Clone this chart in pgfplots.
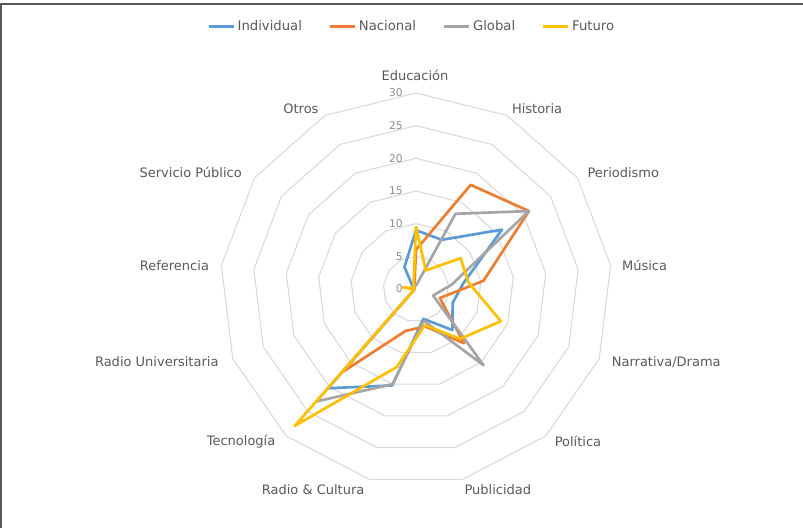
\documentclass[border=0pt]{standalone}
\usepackage{fontspec}
\setmainfont{DejaVu Sans}
\usepackage{pgfplots}
\pgfplotsset{compat=1.18}
\usepgfplotslibrary{polar}
\definecolor{cI}{HTML}{5B9BD5}
\definecolor{cN}{HTML}{ED7D31}
\definecolor{cG}{HTML}{A5A5A5}
\definecolor{cF}{HTML}{FFC000}
\definecolor{gridc}{HTML}{D9D9D9}
\definecolor{labc}{HTML}{595959}
\definecolor{tickc}{HTML}{8C8C8C}
\newcommand\lab[4]{\node[text=labc,font=\fontsize{9.75}{11}\selectfont,xshift=#2*0.75pt,yshift=#3*0.75pt] at (axis cs:#1,30) {#4};}
\newcommand\tlab[1]{\node[text=tickc,font=\fontsize{8}{9}\selectfont,anchor=east,xshift=-6.5pt] at (axis cs:90,#1) {#1};}
\begin{document}
\begin{tikzpicture}[x=0.75pt,y=0.75pt]
\path[use as bounding box] (0,0) rectangle (803,528);
\draw[black!65,line width=1.2pt] (0,524) -- (803,524);
\draw[black!65,line width=1.2pt] (0.8,0) -- (0.8,524);
\begin{polaraxis}[
  at={(312pt,179.25pt)}, anchor=origin,
  scale only axis, width=294pt, height=294pt,
  xmin=0, xmax=360, ymin=0, ymax=30,
  hide axis, clip=false,
  legend columns=4,
  legend style={at={(0.49,1.170)}, anchor=center, draw=none, fill=none,
    font=\fontsize{9.9}{11}\selectfont, text=labc,
    /tikz/every even column/.append style={column sep=18pt}},
  legend image code/.code={\draw[#1] (0pt,0pt) -- (18.75pt,0pt);},
  every axis plot/.append style={line width=2pt, line join=round},
]
\pgfplotsinvokeforeach{5,10,15,20,25,30}{
\addplot[gridc, line width=0.8pt, forget plot] coordinates {(90,#1) (62.308,#1) (34.615,#1) (6.923,#1) (339.231,#1) (311.538,#1) (283.846,#1) (256.154,#1) (228.462,#1) (200.769,#1) (173.077,#1) (145.385,#1) (117.692,#1) (90,#1)};
}
\addplot[cI] coordinates {(90,9) (62.308,8.5) (34.615,16) (6.923,7.3) (339.231,6) (311.538,8.4) (283.846,4.7) (256.154,15.2) (228.462,20.3) (200.769,0.3) (173.077,0.3) (145.385,0.6) (117.692,3.8) (90,9)};
\addlegendentry{Individual}
\addplot[cN] coordinates {(90,6) (62.308,18) (34.615,21) (6.923,10.4) (339.231,3.9) (311.538,11.1) (283.846,5.9) (256.154,6.6) (228.462,17) (200.769,0.3) (173.077,0.3) (145.385,0.3) (117.692,0.5) (90,6)};
\addlegendentry{Nacional}
\addplot[cG] coordinates {(90,0.5) (62.308,13) (34.615,21) (6.923,5.5) (339.231,2.8) (311.538,15.6) (283.846,5) (256.154,15) (228.462,23) (200.769,0.3) (173.077,0.3) (145.385,0.3) (117.692,0.5) (90,0.5)};
\addlegendentry{Global}
\addplot[cF] coordinates {(90,9.6) (62.308,3.2) (34.615,8.3) (6.923,8.1) (339.231,13.9) (311.538,10.2) (283.846,5.7) (256.154,12.3) (228.462,28) (200.769,0.3) (173.077,2) (145.385,0.3) (117.692,0.8) (90,9.6)};
\addlegendentry{Futuro}
\lab{90}{-1}{18}{Educación}
\lab{62.308}{30}{7}{Historia}
\lab{34.615}{46}{5}{Periodismo}
\lab{6.923}{34}{-0.5}{Música}
\lab{339.231}{67}{-3.5}{Narrativa/Drama}
\lab{311.538}{32}{-6}{Política}
\lab{283.846}{35}{-10}{Publicidad}
\lab{256.154}{-56}{-10}{Radio \& Cultura}
\lab{228.462}{-45}{-6}{Tecnología}
\lab{200.769}{-76}{-3.5}{Radio Universitaria}
\lab{173.077}{-47}{-0.5}{Referencia}
\lab{145.385}{-64}{5}{Servicio Público}
\lab{117.692}{-24}{7}{Otros}
\tlab{0}\tlab{5}\tlab{10}\tlab{15}\tlab{20}\tlab{25}\tlab{30}
\end{polaraxis}
\end{tikzpicture}
\end{document}
